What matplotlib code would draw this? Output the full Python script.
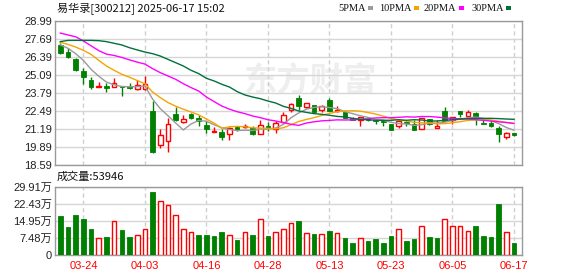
import numpy as np
import matplotlib
matplotlib.use("Agg")
import matplotlib.pyplot as plt
from matplotlib.patches import Rectangle

# ------------------------------------------------------------------
# data (read off the Eastmoney daily K-line for 300212)
# ------------------------------------------------------------------
dates = ["03-19", "03-20", "03-21", "03-24", "03-25", "03-26", "03-27", "03-28", "03-31",
         "04-01", "04-02", "04-03", "04-07", "04-08", "04-09", "04-10", "04-11",
         "04-14", "04-15", "04-16", "04-17", "04-18", "04-21", "04-22", "04-23", "04-24",
         "04-25", "04-28", "04-29", "04-30", "05-06", "05-07", "05-08", "05-09",
         "05-12", "05-13", "05-14", "05-15", "05-16", "05-19", "05-20", "05-21", "05-22",
         "05-23", "05-26", "05-27", "05-28", "05-29", "05-30", "06-03", "06-04", "06-05",
         "06-06", "06-09", "06-10", "06-11", "06-12", "06-13", "06-16", "06-17"]

opens = [27.26, 26.78, 26.25, 25.38, 24.71, 24.22, 24.28, 24.22, 24.28, 24.27, 24.08, 24.10,
         22.49, 20.01, 20.32, 22.25, 21.67, 22.25, 22.01, 21.46, 21.00, 20.97, 20.80, 21.33,
         21.34, 21.29, 20.85, 21.41, 21.17, 21.72, 22.54, 23.40, 22.80, 22.90, 22.54, 23.28,
         22.46, 22.39, 21.96, 21.84, 21.91, 21.87, 21.80, 21.53, 21.38, 21.70, 21.58, 21.17,
         21.91, 21.29, 22.49, 21.82, 22.49, 22.13, 22.32, 21.65, 21.62, 21.24, 20.61, 20.88]
closes = [26.68, 26.41, 25.48, 24.97, 24.24, 24.27, 24.18, 24.49, 24.20, 24.15, 24.34, 24.42,
          19.55, 20.73, 21.53, 21.84, 21.89, 22.01, 21.77, 21.17, 21.04, 20.64, 21.24, 21.12,
          21.38, 20.80, 21.45, 21.24, 21.60, 22.20, 22.97, 22.88, 23.04, 22.44, 22.85, 22.52,
          22.58, 21.96, 21.87, 22.06, 21.82, 21.74, 21.71, 21.09, 21.77, 21.60, 21.14, 21.99,
          21.58, 21.43, 21.77, 22.08, 22.30, 22.39, 21.96, 21.58, 21.38, 20.85, 20.90, 20.76]
highs = [27.40, 27.06, 26.29, 25.57, 24.95, 24.58, 24.54, 24.90, 24.28, 24.51, 24.75, 25.02,
         23.21, 21.21, 22.01, 22.78, 22.18, 22.32, 22.20, 21.77, 21.36, 21.17, 21.33, 21.38,
         21.53, 21.38, 21.82, 21.72, 21.77, 22.44, 23.04, 23.64, 23.04, 22.90, 22.92, 23.40,
         22.85, 22.49, 22.06, 22.06, 22.01, 21.91, 21.84, 21.53, 21.94, 21.79, 21.82, 21.99,
         21.91, 21.87, 22.78, 22.08, 22.49, 22.56, 22.44, 22.01, 21.87, 21.38, 20.95, 20.88]
lows = [26.58, 26.34, 25.38, 24.42, 24.10, 24.20, 23.89, 24.22, 23.60, 24.08, 23.98, 24.03,
        19.48, 19.84, 19.55, 21.77, 21.60, 21.91, 21.43, 20.88, 20.98, 20.42, 20.42, 21.05,
        21.24, 20.76, 20.80, 21.05, 20.93, 21.65, 22.39, 22.54, 22.68, 22.44, 22.44, 22.52,
        22.44, 21.96, 21.82, 21.41, 21.77, 21.58, 21.38, 21.09, 21.24, 21.38, 21.14, 21.17,
        21.50, 21.29, 21.77, 21.58, 22.06, 22.01, 21.48, 21.58, 21.33, 20.28, 20.47, 20.66]

# volume in 万 shares
volumes = [16.99, 12.20, 17.42, 15.68, 11.33, 7.26, 7.84, 15.10, 10.89, 7.84, 9.00, 11.62,
           27.88, 23.81, 21.78, 17.71, 11.62, 10.02, 8.71, 8.71, 8.28, 10.02, 9.00, 6.53,
           10.02, 8.71, 15.97, 8.28, 10.02, 11.62, 13.94, 14.81, 9.58, 9.15, 9.15, 10.45,
           9.58, 7.41, 5.23, 7.26, 6.24, 6.97, 5.23, 8.57, 11.62, 6.24, 6.97, 12.92,
           7.84, 7.41, 15.97, 12.92, 12.92, 10.74, 12.63, 8.28, 7.84, 22.22, 10.02, 5.39]

ma5 = [27.26, 27.02, 26.63, 26.15, 25.50, 25.00, 24.58, 24.38, 24.26, 24.24, 24.25, 24.30,
       23.35, 22.66, 22.15, 21.62, 21.12, 21.55, 21.81, 21.75, 21.50, 21.28, 21.15, 21.08,
       21.10, 21.08, 21.18, 21.18, 21.26, 21.52, 22.00, 22.35, 22.62, 22.75, 22.80, 22.74,
       22.66, 22.45, 22.30, 22.15, 22.03, 21.88, 21.83, 21.67, 21.58, 21.55, 21.45, 21.50,
       21.63, 21.62, 21.68, 21.82, 21.90, 22.00, 22.05, 21.95, 21.80, 21.58, 21.30, 21.10]
ma10 = [27.45, 27.30, 27.11, 26.87, 26.58, 26.15, 25.74, 25.43, 25.14, 24.93, 24.69, 24.46,
        23.86, 23.46, 23.10, 22.84, 22.62, 22.42, 22.21, 21.91, 21.61, 21.24, 21.35, 21.38,
        21.35, 21.28, 21.25, 21.24, 21.20, 21.28, 21.50, 21.73, 21.88, 22.01, 22.17, 22.32,
        22.44, 22.50, 22.51, 22.48, 22.38, 22.27, 22.12, 21.96, 21.84, 21.77, 21.67, 21.64,
        21.62, 21.56, 21.58, 21.64, 21.72, 21.81, 21.84, 21.84, 21.84, 21.75, 21.66, 21.59]
ma20 = [28.12, 27.98, 27.85, 27.55, 27.20, 26.85, 26.60, 26.50, 26.36, 26.18, 26.02, 25.88,
        25.55, 25.26, 25.02, 24.78, 24.46, 24.18, 23.93, 23.50, 23.17, 22.85, 22.62, 22.44,
        22.30, 22.13, 22.01, 21.86, 21.77, 21.65, 21.53, 21.45, 21.62, 21.71, 21.78, 21.81,
        21.85, 21.84, 21.85, 21.89, 21.93, 21.99, 22.01, 22.01, 22.03, 22.07, 22.05, 22.09,
        22.09, 22.05, 21.99, 21.95, 21.92, 21.91, 21.87, 21.82, 21.76, 21.71, 21.66, 21.59]
ma30 = [27.50, 27.59, 27.59, 27.59, 27.59, 27.57, 27.50, 27.38, 27.26, 27.06, 26.90, 26.75,
        26.63, 26.46, 26.22, 25.98, 25.74, 25.43, 25.19, 24.85, 24.66, 24.42, 24.22, 23.89,
        23.65, 23.50, 23.38, 23.21, 23.07, 22.83, 22.68, 22.49, 22.39, 22.30, 22.25, 22.18,
        22.10, 22.06, 21.96, 21.89, 21.86, 21.82, 21.82, 21.82, 21.86, 21.82, 21.86, 21.84,
        21.77, 21.77, 21.82, 21.86, 21.91, 21.94, 21.96, 21.96, 21.96, 21.94, 21.91, 21.89]

price_ticks = [18.59, 19.89, 21.19, 22.49, 23.79, 25.09, 26.39, 27.69, 28.99]
vol_ticks = [0, 7.48, 14.95, 22.43, 29.91]
tick_dates = ["03-24", "04-03", "04-16", "04-28", "05-13", "05-23", "06-05", "06-17"]
title = "易华录[300212] 2025-06-17 15:02"
last_volume = 53946

ma_names = ["5PMA", "10PMA", "20PMA", "30PMA"]
ma_colors = ["#9a9a9a", "#f5a400", "#ff00ff", "#00703c"]

# ------------------------------------------------------------------
RED = "#ff0000"
GREEN = "#008000"
GRID = "#d6d6d6"
EDGE = "#9a9a9a"
CJK = ["Noto Sans CJK SC", "DejaVu Sans"]
NUM = ["Liberation Sans", "Noto Sans CJK SC"]

W, H = 578, 276
fig = plt.figure(figsize=(W / 100, H / 100), dpi=100)
ax1 = fig.add_axes([55 / W, 1 - 165 / H, 467 / W, 144 / H])
ax2 = fig.add_axes([55 / W, 1 - 255 / H, 467 / W, 68 / H])

x = np.arange(len(dates))
o = np.array(opens)
c = np.array(closes)
up = c >= o
tick_pos = [dates.index(d) for d in tick_dates]

# candles
ax1.vlines(x[up], np.array(lows)[up], np.array(highs)[up], color=RED, lw=1, zorder=2)
ax1.vlines(x[~up], np.array(lows)[~up], np.array(highs)[~up], color=GREEN, lw=1, zorder=2)
body_lo = np.minimum(o, c)
body_h = np.maximum(np.abs(c - o), 0.03)
ax1.bar(x[up], body_h[up], bottom=body_lo[up], width=0.6, facecolor="white",
        edgecolor=RED, linewidth=1, zorder=3)
ax1.bar(x[~up], body_h[~up], bottom=body_lo[~up], width=0.6, color=GREEN,
        edgecolor=GREEN, linewidth=0.6, zorder=3)

# moving averages
for vals, col in zip([ma5, ma10, ma20, ma30], ma_colors):
    ax1.plot(x, vals, color=col, lw=1, zorder=4)

# watermark
ax1.text(32.4, 24.6, "东方财富", fontsize=24, color="#eeeeee", ha="center", va="center",
         family=CJK, fontweight="bold", zorder=0)

# volume, coloured by close vs previous close
vol_up = np.r_[c[0] >= o[0], np.diff(c) >= 0]
v = np.array(volumes)
ax2.bar(x[vol_up], v[vol_up], width=0.6, facecolor="white", edgecolor=RED,
        linewidth=1, zorder=3)
ax2.bar(x[~vol_up], v[~vol_up], width=0.6, color=GREEN, edgecolor=GREEN,
        linewidth=0.6, zorder=3)

for ax in (ax1, ax2):
    ax.set_xlim(-0.69, 60.04)
    for s in ax.spines.values():
        s.set_color(EDGE)
        s.set_linewidth(1)
    for p in tick_pos:
        ax.axvline(p, color="#cfcfcf", lw=1, dashes=(3, 2.2), zorder=1)
    ax.tick_params(length=0, pad=2, labelsize=8, labelcolor="#222222")

ax1.set_ylim(price_ticks[0], price_ticks[-1])
ax1.set_yticks(price_ticks)
ax1.set_yticklabels([f"{t:.2f}" for t in price_ticks], family=NUM)
for t in price_ticks:
    ax1.axhline(t, color=GRID, lw=1, zorder=1)
ax1.set_xticks([])

ax2.set_ylim(vol_ticks[0], vol_ticks[-1])
ax2.set_yticks(vol_ticks)
ax2.set_yticklabels(["0"] + [f"{t:.2f}万" for t in vol_ticks[1:]], family=NUM)
for t in vol_ticks:
    ax2.axhline(t, color=GRID, lw=1, zorder=1)
ax2.set_xticks(tick_pos)
ax2.set_xticklabels(tick_dates, color=RED, family=NUM)
ax2.tick_params(axis="x", pad=4)

# header texts
fig.text(57 / W, 1 - 8.5 / H, title, fontsize=8, va="center", ha="left", family=CJK,
         color="#111111")
fig.text(57 / W, 1 - 177 / H, f"成交量:{last_volume}", fontsize=8, va="center",
         ha="left", family=CJK, color="#111111")

# legend
fig.canvas.draw()
renderer = fig.canvas.get_renderer()
leg_x = [338, 379, 424, 471]
for name, col, lx in zip(ma_names, ma_colors, leg_x):
    t = fig.text(lx / W, 1 - 8.5 / H, name, fontsize=7.5, va="center", ha="left",
                 family="Liberation Serif", color="#111111")
    bb = t.get_window_extent(renderer=renderer)
    fig.add_artist(Rectangle(((bb.x1 + 2.5) / W, 1 - 10 / H), 5 / W, 3.5 / H,
                             transform=fig.transFigure, color=col, lw=0))

fig.savefig("out.png", dpi=100)
